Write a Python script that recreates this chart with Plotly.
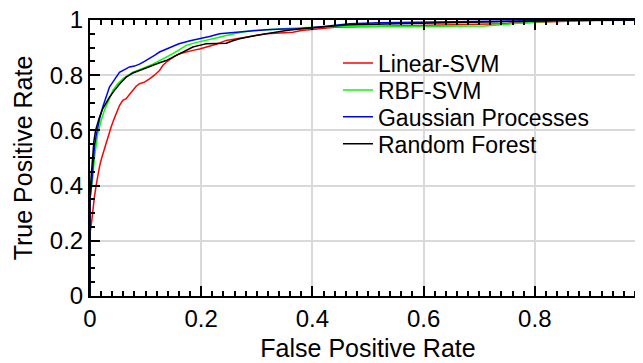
import plotly.graph_objects as go

# ---- data ----
series_names = ["Linear-SVM", "RBF-SVM", "Gaussian Processes", "Random Forest"]
series_colors = ["#ff0000", "#00ff00", "#0000ff", "#000000"]

linear_svm_fpr = [0, 0, 0.003, 0.005, 0.008, 0.011, 0.014, 0.017, 0.021, 0.025, 0.029, 0.032, 0.035, 0.038,
                  0.043, 0.047, 0.053, 0.059, 0.065, 0.071, 0.077, 0.083, 0.089, 0.098, 0.107, 0.116, 0.125,
                  0.131, 0.137, 0.145, 0.153, 0.161, 0.173, 0.185, 0.197, 0.209, 0.227, 0.245, 0.257, 0.269,
                  0.293, 0.317, 0.341, 0.365, 0.38, 0.395, 0.42, 0.44, 0.5, 0.55, 0.6, 0.65, 0.7, 0.74, 0.78,
                  0.83, 0.88, 0.92, 1.0]
linear_svm_tpr = [0, 0.227, 0.27, 0.31, 0.36, 0.40, 0.44, 0.468, 0.50, 0.528, 0.556, 0.576, 0.595, 0.612,
                  0.64, 0.66, 0.69, 0.709, 0.715, 0.73, 0.745, 0.76, 0.769, 0.775, 0.787, 0.80, 0.817,
                  0.835, 0.847, 0.86, 0.87, 0.878, 0.885, 0.89, 0.895, 0.902, 0.912, 0.926, 0.93, 0.936,
                  0.943, 0.95, 0.953, 0.956, 0.962, 0.965, 0.97, 0.974, 0.976, 0.978, 0.979, 0.98, 0.982,
                  0.986, 0.99, 0.993, 0.996, 1.0, 1.0]

rbf_svm_fpr = [0, 0, 0.003, 0.005, 0.008, 0.011, 0.014, 0.017, 0.02, 0.026, 0.029, 0.035, 0.041, 0.05, 0.059,
               0.068, 0.077, 0.089, 0.101, 0.113, 0.125, 0.137, 0.149, 0.161, 0.173, 0.19, 0.209, 0.227, 0.245,
               0.27, 0.293, 0.32, 0.347, 0.38, 0.42, 0.45, 0.55, 0.65, 0.71, 0.75, 0.8, 0.85, 0.9, 1.0]
rbf_svm_tpr = [0, 0.35, 0.40, 0.43, 0.50, 0.55, 0.59, 0.61, 0.636, 0.673, 0.685, 0.715, 0.745, 0.77, 0.787,
               0.80, 0.811, 0.82, 0.829, 0.84, 0.853, 0.865, 0.878, 0.893, 0.908, 0.918, 0.926, 0.935, 0.944,
               0.955, 0.962, 0.966, 0.968, 0.972, 0.975, 0.976, 0.976, 0.977, 0.978, 0.985, 0.993, 0.996,
               0.998, 1.0]

gp_fpr = [0, 0, 0.003, 0.005, 0.008, 0.011, 0.014, 0.017, 0.023, 0.029, 0.035, 0.041, 0.047, 0.053, 0.062,
          0.071, 0.08, 0.089, 0.098, 0.107, 0.116, 0.125, 0.14, 0.16, 0.18, 0.197, 0.215, 0.233, 0.26, 0.287,
          0.317, 0.347, 0.377, 0.42, 0.467, 0.52, 0.6, 0.7, 0.8, 0.9, 1.0]
gp_tpr = [0, 0.35, 0.41, 0.47, 0.54, 0.58, 0.612, 0.64, 0.685, 0.72, 0.757, 0.775, 0.795, 0.81, 0.82,
          0.83, 0.833, 0.84, 0.85, 0.86, 0.872, 0.884, 0.898, 0.914, 0.925, 0.932, 0.94, 0.95, 0.955, 0.958,
          0.965, 0.967, 0.968, 0.976, 0.986, 0.99, 0.992, 0.995, 0.998, 1.0, 1.0]

rf_fpr = [0, 0, 0.002, 0.004, 0.007, 0.01, 0.014, 0.017, 0.022, 0.026, 0.029, 0.035, 0.044, 0.054, 0.065,
          0.077, 0.089, 0.1, 0.113, 0.125, 0.137, 0.149, 0.161, 0.173, 0.185, 0.197, 0.209, 0.227, 0.245,
          0.257, 0.269, 0.293, 0.317, 0.335, 0.353, 0.38, 0.42, 0.46, 0.55, 0.65, 0.75, 0.85, 1.0]
rf_tpr = [0, 0.36, 0.43, 0.5, 0.56, 0.6, 0.63, 0.648, 0.675, 0.69, 0.697, 0.72, 0.745, 0.77, 0.793,
          0.808, 0.817, 0.826, 0.835, 0.845, 0.853, 0.865, 0.878, 0.89, 0.902, 0.908, 0.914, 0.915, 0.916,
          0.925, 0.932, 0.942, 0.95, 0.956, 0.962, 0.968, 0.976, 0.982, 0.986, 0.99, 0.994, 0.998, 1.0]

tick_vals = [0, 0.2, 0.4, 0.6, 0.8, 1]
tick_text = ["0", "0.2", "0.4", "0.6", "0.8", "1"]

xs = [linear_svm_fpr, rbf_svm_fpr, gp_fpr, rf_fpr]
ys = [linear_svm_tpr, rbf_svm_tpr, gp_tpr, rf_tpr]

FONT = "Liberation Sans, Arial, sans-serif"
legend_ids = ["legend", "legend2", "legend3", "legend4"]
legend_rows_y = [0.844, 0.746, 0.649, 0.551]

fig = go.Figure()
for name, color, x, y, lg in zip(series_names, series_colors, xs, ys, legend_ids):
    fig.add_trace(go.Scatter(x=x, y=y, mode="lines", name=name, legend=lg,
                             line=dict(color=color, width=1.5)))

axis_common = dict(
    range=[0, 1], tickvals=tick_vals, ticktext=tick_text,
    showline=True, linecolor="black", linewidth=2, mirror="ticks",
    ticks="inside", ticklen=10, tickwidth=2, tickcolor="black",
    showgrid=True, gridcolor="#d9d9d9", gridwidth=2,
    zeroline=False, automargin=False, ticklabeloverflow="allow",
    tickfont=dict(family=FONT, size=24, color="black"),
)

fig.update_xaxes(**axis_common,
                 minor=dict(ticks="inside", ticklen=5, tickwidth=1.5, tickcolor="black",
                            dtick=0.02, tick0=0, showgrid=False),
                 title=dict(text="False Positive Rate", font=dict(family=FONT, size=25, color="black"),
                            standoff=9))
fig.update_yaxes(**axis_common,
                 minor=dict(ticks="inside", ticklen=5, tickwidth=1.5, tickcolor="black",
                            dtick=0.05, tick0=0, showgrid=False),
                 title=dict(text="True Positive Rate", font=dict(family=FONT, size=25, color="black"),
                            standoff=10))

legend_layout = {}
for lg, ly in zip(legend_ids, legend_rows_y):
    legend_layout[lg] = dict(x=0.446, y=ly, xanchor="left", yanchor="middle",
                             bgcolor="rgba(0,0,0,0)", borderwidth=0,
                             font=dict(family=FONT, size=23, color="black"))

fig.update_layout(
    width=643, height=363,
    margin=dict(l=82, r=5, t=12, b=75),
    paper_bgcolor="white", plot_bgcolor="white",
    showlegend=True,
    **legend_layout,
)

fig.write_html("out.html")
